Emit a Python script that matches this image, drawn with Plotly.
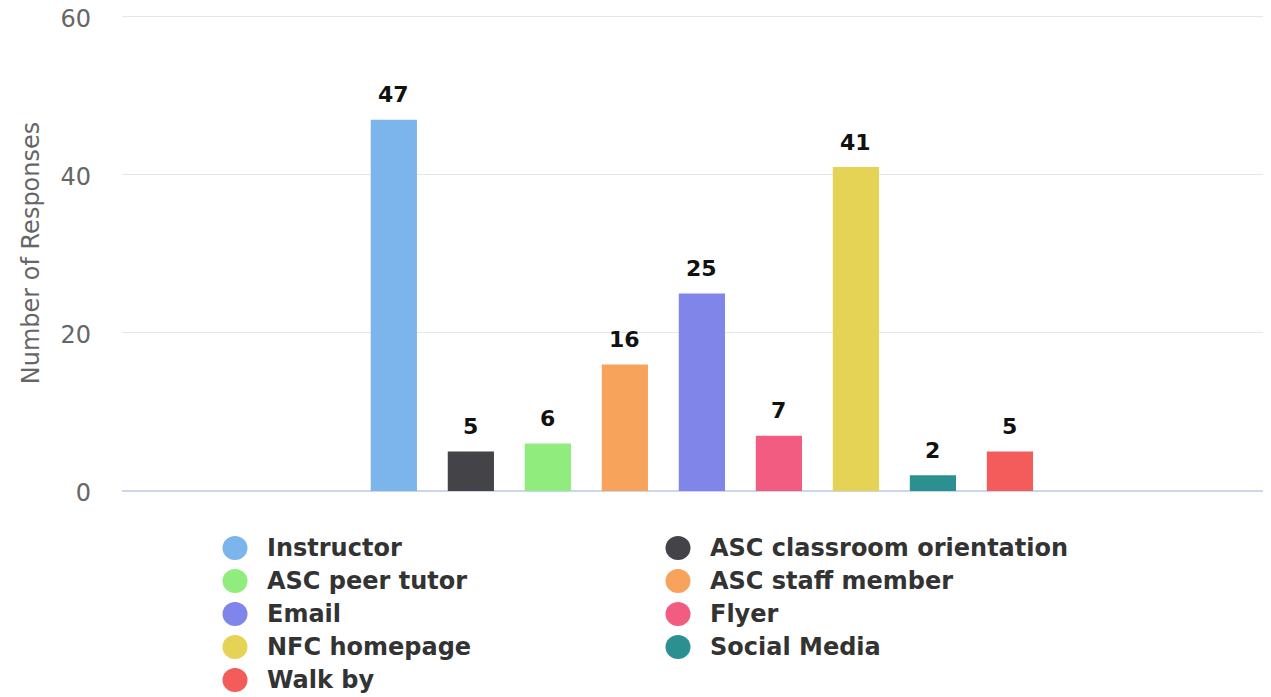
import plotly.graph_objects as go

series = ["Instructor", "ASC classroom orientation", "ASC peer tutor", "ASC staff member",
          "Email", "Flyer", "NFC homepage", "Social Media", "Walk by"]
values = [47, 5, 6, 16, 25, 7, 41, 2, 5]
colors = ["#7cb5ec", "#434348", "#90ed7d", "#f7a35c", "#8085e9", "#f15c80", "#e4d354", "#2b908f", "#f45b5b"]
y_ticks = [0, 20, 40, 60]
y_title = "Number of Responses"

FONT = "DejaVu Sans"
OFF = 8  # default body margin of the html page
W, H = 1271 - OFF, 697 - OFF
Y_MAX = 60.25
PH = 476
ML, MR = 122 - OFF, 0
MT = 17 - OFF - (PH - 474)
MB = H - MT - PH
PW = W - ML - MR

fig = go.Figure()
for name, v, c in zip(series, values, colors):
    fig.add_trace(go.Bar(x=[name], y=[v], name=name, marker=dict(color=c, line=dict(width=0)),
                         showlegend=False, hoverinfo="x+y"))

annotations = []
for name, v in zip(series, values):
    annotations.append(dict(x=name, y=v, xref="x", yref="y", text=f"<b>{v}</b>", showarrow=False,
                            yanchor="middle", yshift=25, font=dict(family=FONT, size=22, color="#111")))

# manual legend (two columns, circle symbols)
def px2x(px):
    return (px - OFF - ML) / PW

def py2y(py):
    return (MT + PH - (py - OFF)) / PH

shapes = []
col_x = [235, 678]
row_y = [548, 581, 614, 647, 680]
for i, (name, c) in enumerate(zip(series, colors)):
    cx = col_x[i % 2]
    cy = row_y[i // 2]
    shapes.append(dict(type="circle", xref="paper", yref="paper", xsizemode="pixel", ysizemode="pixel",
                       xanchor=px2x(cx), yanchor=py2y(cy), x0=-12.5, x1=12.5, y0=-12, y1=12,
                       fillcolor=c, line=dict(width=0)))
    annotations.append(dict(x=px2x(cx + 30), y=py2y(cy), xref="paper", yref="paper", text=f"<b>{name}</b>",
                            showarrow=False, xanchor="left", yanchor="middle",
                            font=dict(family=FONT, size=24, color="#333")))

fig.update_layout(
    width=W, height=H,
    margin=dict(l=ML, r=MR, t=MT, b=MB, pad=0, autoexpand=False),
    paper_bgcolor="white", plot_bgcolor="white",
    bargap=0.4,
    font=dict(family=FONT, color="#666"),
    shapes=shapes, annotations=annotations,
    showlegend=False,
)
fig.update_xaxes(showticklabels=False, showgrid=False, zeroline=False, showline=False, automargin=False,
                 range=[-3.53, 11.39], fixedrange=True)
fig.update_yaxes(range=[0, Y_MAX], tickvals=y_ticks, showgrid=True, gridcolor="#e6e6e6", gridwidth=1,
                 zeroline=True, zerolinecolor="#ccd6eb", zerolinewidth=2, ticklabeloverflow="allow",
                 automargin=False, ticklabelshift=2,
                 tickfont=dict(family=FONT, size=24, color="#666"), ticklabelstandoff=30,
                 title=dict(text=y_title, font=dict(family=FONT, size=24, color="#666"), standoff=14))

fig.write_html("out.html")
